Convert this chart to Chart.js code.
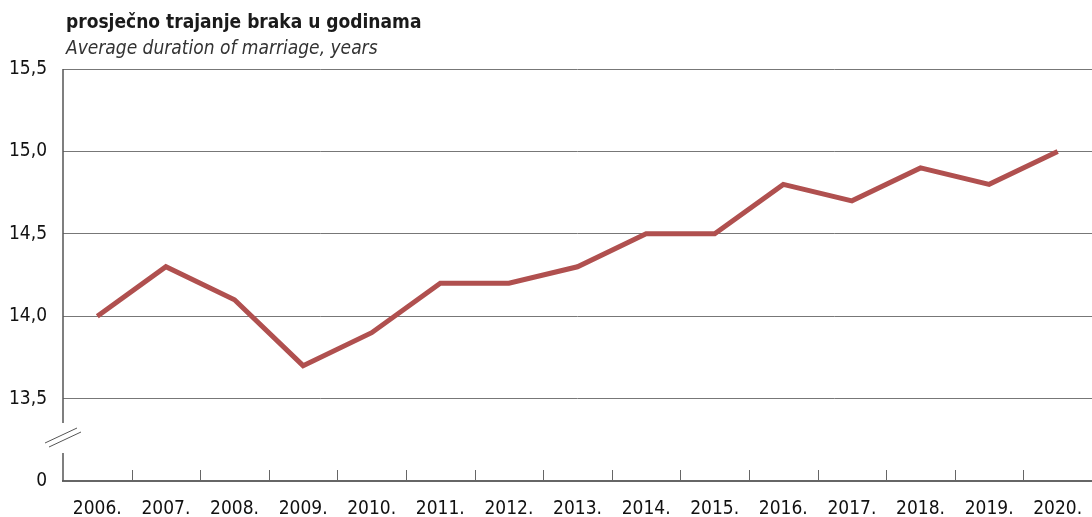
<!DOCTYPE html>
<html>
<head>
<meta charset="utf-8">
<script src="https://cdn.jsdelivr.net/npm/chart.js@4/dist/chart.umd.min.js"></script>
<style>
  body { margin: 0; background: #fff; }
  #wrap { position: relative; width: 1092px; height: 517px; overflow: hidden; }
  .t { position: absolute; left: 66px; font-family: "Liberation Sans Narrow", "DejaVu Sans Condensed", sans-serif; color: #1a1a1a; font-size: 19px; white-space: nowrap; }
  #t1 { top: 10px; font-weight: bold; }
  #t2 { top: 36px; font-style: italic; color: #333; }
</style>
</head>
<body>
<div id="wrap">
  <div class="t" id="t1">prosječno trajanje braka u godinama</div>
  <div class="t" id="t2">Average duration of marriage, years</div>
  <canvas id="marriageChart" width="1092" height="517"></canvas>
</div>
<script>
const FONT = '"Liberation Sans Narrow", "DejaVu Sans Condensed", sans-serif';

const years = ['2006.', '2007.', '2008.', '2009.', '2010.', '2011.', '2012.', '2013.',
               '2014.', '2015.', '2016.', '2017.', '2018.', '2019.', '2020.'];
const avgDuration = [14.0, 14.3, 14.1, 13.7, 13.9, 14.2, 14.2, 14.3,
                     14.5, 14.5, 14.8, 14.7, 14.9, 14.8, 15.0];
const yTicks = [13.0, 13.5, 14.0, 14.5, 15.0, 15.5];

// axis with a break between 0 and 13,5 + upward category ticks
const axisDecor = {
    id: 'axisDecor',
    afterDraw(chart) {
        const ctx = chart.ctx;
        const area = chart.chartArea;
        const x = chart.scales.x;
        ctx.save();
        ctx.strokeStyle = '#555';
        ctx.lineWidth = 1.5;
        ctx.beginPath();
        ctx.moveTo(area.left, area.top);
        ctx.lineTo(area.left, 423);
        ctx.moveTo(area.left, 453);
        ctx.lineTo(area.left, area.bottom);
        ctx.stroke();

        ctx.lineWidth = 1;
        ctx.beginPath();
        ctx.moveTo(45, 443); ctx.lineTo(77, 428);
        ctx.moveTo(49, 447); ctx.lineTo(81, 432);
        ctx.stroke();

        ctx.strokeStyle = '#666';
        ctx.beginPath();
        for (let i = 1; i < years.length; i++) {
            const px = Math.round((x.getPixelForValue(i - 1) + x.getPixelForValue(i)) / 2) + 0.5;
            ctx.moveTo(px, area.bottom - 11);
            ctx.lineTo(px, area.bottom);
        }
        ctx.stroke();
        ctx.restore();
    }
};

new Chart(document.getElementById('marriageChart'), {
    type: 'line',
    data: {
        labels: years,
        datasets: [{
            data: avgDuration,
            borderColor: '#b0504f',
            borderWidth: 5,
            pointRadius: 0,
            tension: 0,
            borderJoinStyle: 'miter'
        }]
    },
    options: {
        responsive: false,
        animation: false,
        layout: { padding: { top: 69, right: -6, left: 0, bottom: 0 } },
        plugins: { legend: { display: false }, tooltip: { enabled: false } },
        scales: {
            x: {
                offset: true,
                grid: { display: false },
                border: { color: '#666', width: 2 },
                ticks: {
                    color: '#111',
                    padding: 9,
                    maxRotation: 0,
                    autoSkip: false,
                    font: { family: FONT, size: 19 }
                },
                afterFit(scale) {
                    scale.height = 36;
                    scale.paddingRight = 0;
                    scale.paddingLeft = 0;
                }
            },
            y: {
                min: 13,
                max: 15.5,
                afterBuildTicks(scale) { scale.ticks = yTicks.map(v => ({ value: v })); },
                grid: {
                    drawTicks: false,
                    color: ctx => ctx.tick && ctx.tick.value === 13 ? 'rgba(0,0,0,0)' : '#777',
                    lineWidth: 1
                },
                border: { display: false },
                ticks: {
                    color: '#111',
                    padding: 16,
                    font: { family: FONT, size: 19 },
                    callback: v => v === 13 ? '0' : v.toFixed(1).replace('.', ',')
                },
                afterFit(scale) {
                    scale.width = 63;
                    scale.paddingTop = 0;
                    scale.paddingBottom = 0;
                }
            }
        }
    },
    plugins: [axisDecor]
});
</script>
</body>
</html>
